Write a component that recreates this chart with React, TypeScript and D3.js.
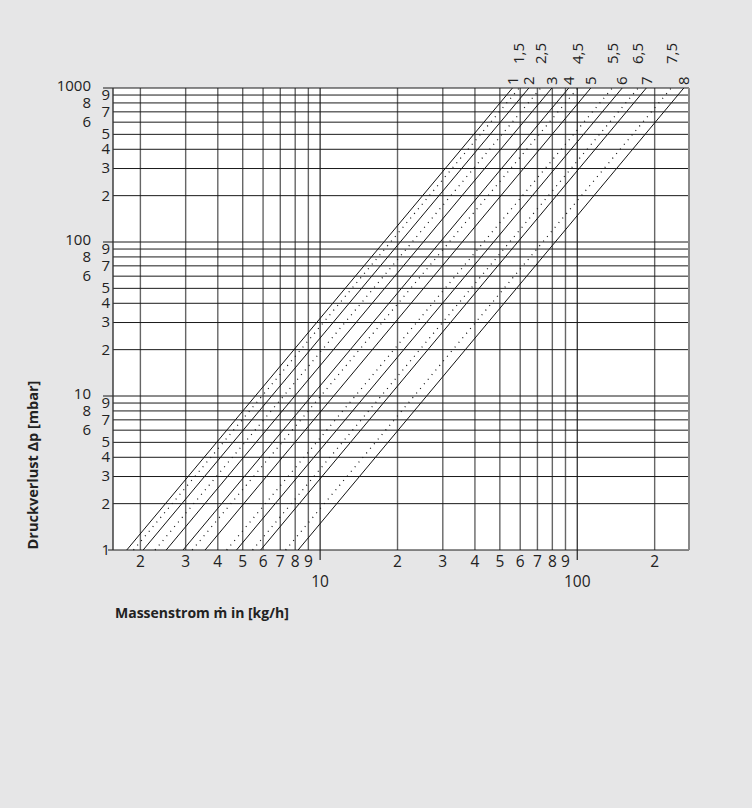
import React from "react";
import * as d3 from "d3";

const settings = ["1", "1,5", "2", "2,5", "3", "4", "4,5", "5", "5,5", "6", "6,5", "7", "7,5", "8"];
const flowAt1mbar = [1.77, 1.88, 2.05, 2.28, 2.52, 2.93, 3.18, 3.57, 4.33, 4.73, 5.46, 5.87, 7.34, 8.21];
const xTicks = [2, 3, 4, 5, 6, 7, 8, 9, 10, 20, 30, 40, 50, 60, 70, 80, 90, 100, 200];
const xTickLabels = ["2", "3", "4", "5", "6", "7", "8", "9", "10", "2", "3", "4", "5", "6", "7", "8", "9", "100", "2"];
const yTicks = [1, 2, 3, 4, 5, 6, 7, 8, 9, 10, 20, 30, 40, 50, 60, 70, 80, 90, 100, 200, 300, 400, 500, 600, 700, 800, 900, 1000];
const yTickLabels = ["1", "2", "3", "4", "5", "6", "7", "8", "9", "10", "2", "3", "4", "5", "6", "7", "8", "9", "100", "2", "3", "4", "5", "6", "7", "8", "9", "1000"];
const xDomain = [1.565, 272];
const yDomain = [1, 1000];
const pressureRange = [1, 1000];

const FONT = "'Open Sans', 'Noto Sans', sans-serif";

export default function App() {
  const W = 752, H = 808;
  const L = 113, R = 689, T = 88, B = 550;
  const x = d3.scaleLog().domain(xDomain).range([L, R]);
  const y = d3.scaleLog().domain(yDomain).range([B, T]);
  const isDecade = (v: number) => Math.abs(Math.log10(v) - Math.round(Math.log10(v))) < 1e-9;
  const line = d3.line<{ m: number; p: number }>().x(d => x(d.m)).y(d => y(d.p));

  return (
    <svg width={W} height={H} style={{ position: "absolute", left: 0, top: 0 }} fontFamily={FONT}>
      <rect x={0} y={0} width={W} height={H} fill="#e6e6e7" />
      <rect x={L} y={T} width={R - L} height={B - T} fill="#ffffff" />
      {/* vertical grid */}
      {xTicks.map((v, i) => (
        <line key={"vx" + i} x1={x(v)} x2={x(v)} y1={T} y2={isDecade(v) ? B + 10 : B}
          stroke={isDecade(v) ? "#222" : "#666"} strokeWidth={isDecade(v) ? 1.2 : 1.4} />
      ))}
      {/* horizontal grid */}
      {yTicks.map((v, i) => (
        <line key={"hy" + i} y1={y(v)} y2={y(v)} x1={isDecade(v) ? (v === 1 ? L - 5 : L - 10) : L} x2={R}
          stroke="#1a1a1a" strokeWidth={1} />
      ))}
      {/* borders */}
      <line x1={L} x2={L} y1={T} y2={B} stroke="#333" strokeWidth={1.4} />
      <line x1={R} x2={R} y1={T} y2={B} stroke="#888" strokeWidth={2} />
      {/* characteristic lines */}
      {settings.map((s, i) => {
        const dotted = s.includes(",");
        const pts = pressureRange.map(p => ({ p, m: flowAt1mbar[i] * Math.sqrt(p) }));
        return (
          <path key={"l" + i} d={line(pts) || ""} fill="none" stroke="#111"
            strokeWidth={dotted ? 1.2 : 1} strokeDasharray={dotted ? "1 5" : undefined} />
        );
      })}
      {/* setting labels */}
      {settings.map((s, i) => {
        const dotted = s.includes(",");
        const xt = x(flowAt1mbar[i] * Math.sqrt(pressureRange[1]));
        const yb = dotted ? 64 : 85;
        return (
          <text key={"s" + i} transform={`translate(${xt},${yb}) rotate(-90)`} dy="0.35em"
            fontSize={15} fill="#222">{s}</text>
        );
      })}
      {/* y labels */}
      {yTicks.map((v, i) => {
        const lab = yTickLabels[i];
        const mant = Math.round(v / Math.pow(10, Math.floor(Math.log10(v) + 1e-9)));
        const leftCol = (isDecade(v) && v > 1) || mant === 6 || mant === 8;
        return (
          <text key={"yl" + i} x={leftCol ? 91 : 110} y={y(v)} dy={isDecade(v) && v > 1 ? "0.2em" : "0.33em"} textAnchor="end"
            fontSize={15} fill="#222">{lab}</text>
        );
      })}
      {/* x labels */}
      {xTicks.map((v, i) => (
        <text key={"xl" + i} x={x(v)} y={isDecade(v) ? 587 : 567} textAnchor="middle"
          fontSize={15.5} fill="#222">{xTickLabels[i]}</text>
      ))}
      {/* axis titles */}
      <text transform={`translate(38,465) rotate(-90)`} textAnchor="middle" fontSize={14.5}
        fontWeight="bold" fill="#222">Druckverlust Δp [mbar]</text>
      <text x={115} y={618} fontSize={14} fontWeight="bold" fill="#222">Massenstrom ṁ in [kg/h]</text>
    </svg>
  );
}
